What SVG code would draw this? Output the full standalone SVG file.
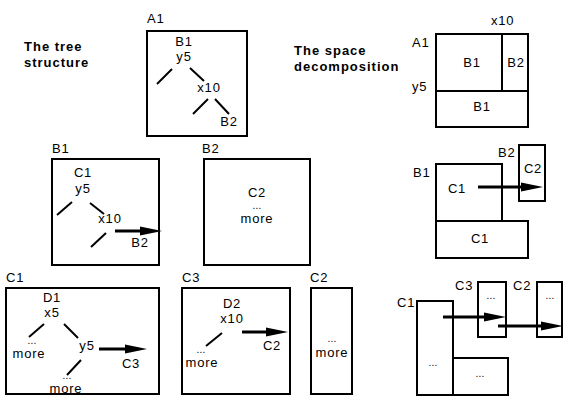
<svg xmlns="http://www.w3.org/2000/svg" width="566" height="396" viewBox="0 0 566 396">
<style>
text{font-family:"Liberation Sans",Arial,Helvetica,sans-serif;font-size:13px;letter-spacing:0.8px;fill:#000}
.m{text-anchor:middle}
.d{letter-spacing:0.3px;font-size:10px}
.h{font-weight:bold;letter-spacing:1px}
.box{fill:none;stroke:#000;stroke-width:2}
.br{stroke:#000;stroke-width:2;fill:none}
.ar{stroke:#000;stroke-width:3.2;fill:none;marker-end:url(#ah)}
</style>
<defs>
<marker id="ah" markerUnits="userSpaceOnUse" markerWidth="22" markerHeight="10" refX="9" refY="5" orient="auto">
<path d="M0,0.5 L22,5 L0,9.5 z" fill="#000"/>
</marker>
</defs>
<rect width="566" height="396" fill="#fff"/>

<g id="titles">
<text class="h" x="24" y="51">The tree</text>
<text class="h" x="24" y="67">structure</text>
<text class="h" x="294" y="55">The space</text>
<text class="h" x="294" y="71">decomposition</text>
</g>

<!-- Tree: A1 -->
<g id="treeA1">
<text x="147" y="23">A1</text>
<rect class="box" x="147" y="31" width="100" height="105"/>
<text class="m" x="184" y="46">B1</text>
<text class="m" x="184" y="61">y5</text>
<text class="m" x="209" y="92">x10</text>
<text class="m" x="229" y="126">B2</text>
</g>

<!-- Space: A1 -->
<g id="spaceA1">
<text x="491" y="25">x10</text>
<text x="412" y="47">A1</text>
<text x="412" y="91">y5</text>
<rect class="box" x="436" y="34" width="92" height="93"/>
<line class="box" x1="502" y1="34" x2="502" y2="91"/>
<line class="box" x1="436" y1="91" x2="528" y2="91"/>
<text class="m" x="472" y="67">B1</text>
<text class="m" x="516" y="67">B2</text>
<text class="m" x="482" y="111">B1</text>
</g>

<!-- Tree: B1 -->
<g id="treeB1">
<text x="52" y="153">B1</text>
<rect class="box" x="52" y="159" width="107" height="106"/>
<text class="m" x="83" y="177">C1</text>
<text class="m" x="83" y="193">y5</text>
<text class="m" x="110" y="223">x10</text>
<text class="m" x="140" y="247">B2</text>
</g>

<!-- Tree: B2 -->
<g id="treeB2">
<text x="202" y="153">B2</text>
<rect class="box" x="204" y="159" width="106" height="106"/>
<text class="m" x="257" y="197">C2</text>
<text class="m d" x="257" y="209">...</text>
<text class="m" x="257" y="223">more</text>
</g>

<!-- Space: B -->
<g id="spaceB2">
<text x="498" y="157">B2</text>
<rect class="box" x="519" y="145" width="26" height="56"/>
<text class="m" x="533" y="173">C2</text>
</g>
<g id="spaceB1">
<text x="413" y="177">B1</text>
<rect class="box" x="436" y="164" width="66" height="57"/>
<rect class="box" x="436" y="221" width="92" height="37"/>
<text class="m" x="457" y="193">C1</text>
<text class="m" x="480" y="243">C1</text>
</g>

<!-- Tree: C1 -->
<g id="treeC1">
<text x="6" y="282">C1</text>
<rect class="box" x="6" y="288" width="153" height="106"/>
<text class="m" x="52" y="302">D1</text>
<text class="m" x="52" y="317">x5</text>
<text class="m d" x="32" y="344">...</text>
<text class="m" x="29" y="358">more</text>
<text class="m" x="87" y="350">y5</text>
<text class="m" x="131" y="368">C3</text>
<text class="m d" x="67" y="379">...</text>
<text class="m" x="66" y="393">more</text>
</g>

<!-- Tree: C3 -->
<g id="treeC3">
<text x="182" y="282">C3</text>
<rect class="box" x="182" y="288" width="108" height="106"/>
<text class="m" x="232" y="308">D2</text>
<text class="m" x="232" y="323">x10</text>
<text class="m d" x="201" y="353">...</text>
<text class="m" x="202" y="367">more</text>
<text class="m" x="272" y="350">C2</text>
</g>

<!-- Tree: C2 -->
<g id="treeC2">
<text x="310" y="282">C2</text>
<rect class="box" x="311" y="288" width="41" height="106"/>
<text class="m d" x="332" y="342">...</text>
<text class="m" x="332" y="357">more</text>
</g>

<!-- Space: C -->
<g id="spaceC1">
<text x="397" y="307">C1</text>
<rect class="box" x="417" y="301" width="36" height="94"/>
<rect class="box" x="453" y="358" width="55" height="37"/>
<text class="m d" x="433" y="366">...</text>
<text class="m d" x="480" y="377">...</text>
</g>
<g id="spaceC3">
<text x="455" y="290">C3</text>
<rect class="box" x="478" y="282" width="28" height="55"/>
<text class="m d" x="491" y="299">...</text>
</g>
<g id="spaceC2">
<text x="513" y="290">C2</text>
<rect class="box" x="537" y="282" width="25" height="55"/>
<text class="m d" x="550" y="299">...</text>
</g>

<g id="connectors">
<!-- tree A1 branches -->
<line class="br" x1="172" y1="69" x2="157" y2="84"/>
<line class="br" x1="190" y1="68" x2="204" y2="81"/>
<line class="br" x1="208" y1="99" x2="193" y2="114"/>
<line class="br" x1="215" y1="99" x2="229" y2="114"/>
<!-- tree B1 branches -->
<line class="br" x1="72" y1="202" x2="57" y2="215"/>
<line class="br" x1="90" y1="203" x2="104" y2="214"/>
<line class="br" x1="106" y1="233" x2="91" y2="247"/>
<!-- tree C1 branches -->
<line class="br" x1="44" y1="324" x2="29" y2="337"/>
<line class="br" x1="64" y1="324" x2="78" y2="338"/>
<line class="br" x1="81" y1="360" x2="67" y2="375"/>
<!-- tree C3 branch -->
<line class="br" x1="222" y1="333" x2="206" y2="346"/>
<!-- arrows (tip = x2 + 13) -->
<line class="ar" x1="115" y1="231" x2="149" y2="231"/>
<line class="ar" x1="478" y1="187" x2="530" y2="187"/>
<line class="ar" x1="99" y1="349" x2="134" y2="349"/>
<line class="ar" x1="242" y1="332" x2="275" y2="332"/>
<line class="ar" x1="443" y1="317" x2="493" y2="317"/>
<line class="ar" x1="498" y1="326" x2="550" y2="326"/>
</g>
</svg>
